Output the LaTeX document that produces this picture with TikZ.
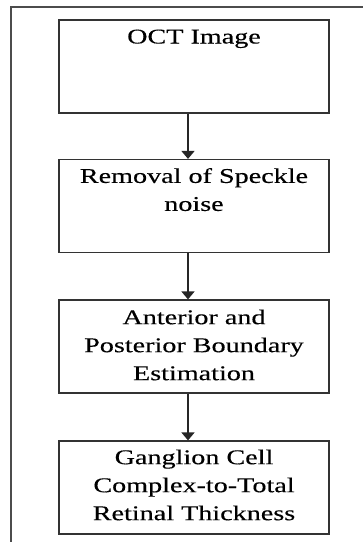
\documentclass[tikz,border=0pt]{standalone}
\usepackage{fontspec}
\setmainfont{Liberation Serif}[FakeStretch=1.34,FakeBold=0.3]
\usetikzlibrary{arrows.meta,positioning}

\tikzset{
	stage/.style={draw=black!80, line width=1.2pt, minimum width=270pt, minimum height=93pt, inner sep=0pt},
	stagetext/.style={anchor=north, align=center, inner sep=0pt, font=\fontsize{21}{28}\selectfont},
	flow/.style={draw=black!85, line width=1.6pt, -{Triangle[width=13pt,length=8pt]}},
	frame/.style={draw=black!70, line width=1.5pt}
}

\begin{document}
\begin{tikzpicture}[x=1pt,y=-1pt]
\useasboundingbox (0,0) rectangle (363,542);
% outer frame, cut at right and bottom
\draw[frame] (11,542) -- (11,7) -- (363,7);
\path
	(194,66.5) node [stage] (oct) {}
	(194,206) node [stage] (noise) {}
	(194,346.5) node [stage] (bound) {}
	(194,487.5) node [stage] (gcc) {};
\node [stagetext, below=10pt of oct.north] (octtxt) {OCT Image};
\node [stagetext, below=9pt of noise.north] (noisetxt) {Removal of Speckle\\noise};
\node [stagetext, below=10pt of bound.north] (boundtxt) {Anterior and\\Posterior Boundary\\Estimation};
\node [stagetext, below=9pt of gcc.north] (gcctxt) {Ganglion Cell\\Complex-to-Total\\Retinal Thickness};
% arrows, a bit left of the middle
\draw[flow] ([xshift=-6pt]oct.south) -- ([xshift=-6pt]noise.north);
\draw[flow] ([xshift=-6pt]noise.south) -- ([xshift=-6pt]bound.north);
\draw[flow] ([xshift=-6pt]bound.south) -- ([xshift=-6pt]gcc.north);
\end{tikzpicture}
\end{document}
